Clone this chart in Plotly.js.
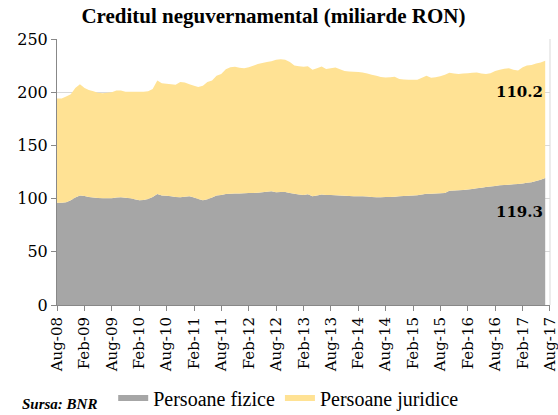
<!DOCTYPE html>
<html>
<head>
<meta charset="utf-8">
<script src="https://cdn.plot.ly/plotly-3.0.1.min.js"></script>
<style>html,body{margin:0;padding:0;background:#fff;}#chart{width:558px;height:415px;}</style>
</head>
<body>
<div id="chart"></div>
<script>
// Monthly data Aug-08 .. Jul-17
const startYear = 2008, startMonth = 8, nMonths = 108;
const fizice = [96,96,96.5,98.4,101,103,102.5,101.6,101,100.5,100.3,100.3,100.3,101,101.2,100.8,100.3,99.5,98.4,98.6,
  99.7,101.5,104.4,102.8,102.6,102.2,101.6,101.2,101.8,102.2,101,99.7,98.4,99.5,101,102.8,103.5,104.4,104.5,104.7,
  104.8,105,105.2,105.3,105.6,105.9,106.5,106.9,105.9,106.1,106.3,105.3,104.5,103.8,103.3,104.1,102.2,103,103.8,103.5,
  103.3,103.1,102.8,102.6,102.4,102.2,102.2,102.2,101.9,101.5,101.2,101.2,101.4,101.4,101.8,102.1,102.4,102.7,102.9,103.1,
  103.8,104.5,104.6,104.8,105,105.3,107.3,107.6,107.8,108.2,108.5,109.1,109.7,110.3,110.8,111.3,111.9,112.5,112.8,113.1,
  113.5,113.8,114.3,114.8,115.4,116.5,117.8,119.3];
const juridice = [98,98,99.5,99.6,103,104.5,101.5,100.4,100,99,98.7,99.2,99.7,100.5,100.3,99.7,100.2,101,102.1,101.9,
  101.3,101.5,106.6,105.7,105.4,105.3,105.4,108.3,107.2,105.3,105,105.3,107.6,110,110,112.7,113.5,117.1,119,119.3,
  118.2,117.6,118.3,119.5,120.9,121.6,122,122.1,124.6,124.9,124.2,123.2,120.5,120.7,120.7,120.4,118.8,119.5,120.4,118.2,
  119.2,120.2,118.7,117.4,117.1,117,116.8,116.4,115.6,115,114.3,113,112.5,112.6,112.7,110.4,109.6,109.1,108.7,108.5,
  109.7,110.9,108.9,109.2,110,111.2,110.9,109.9,109.2,109.3,109.4,109.2,108.9,107.2,106.2,106.5,108.1,108.5,109.2,109.5,
  107.5,106.7,109.2,110.2,110.1,110.5,110.2,110.2];
const seriesNames = ['Persoane fizice', 'Persoane juridice'];
const labelFizice = '119.3', labelJuridice = '110.2';

const months = [];
for (let i = 0; i < nMonths; i++) {
  const m = startMonth - 1 + i;
  const y = startYear + Math.floor(m / 12);
  const mm = (m % 12) + 1;
  months.push(y + '-' + String(mm).padStart(2, '0') + '-01');
}

const serif = 'Liberation Serif, Times New Roman, serif';
const gserif = 'DejaVu Serif, Georgia, serif';
const traces = [
  {x: months, y: fizice, name: seriesNames[0], type: 'scatter', mode: 'none', stackgroup: 'one',
   fillcolor: '#a6a6a6', line: {width: 0}, hoverinfo: 'skip'},
  {x: months, y: juridice, name: seriesNames[1], type: 'scatter', mode: 'none', stackgroup: 'one',
   fillcolor: '#ffe294', line: {width: 0}, hoverinfo: 'skip'}
];

const layout = {
  width: 558, height: 415,
  margin: {l: 57, r: 8, t: 39, b: 110, autoexpand: false},
  paper_bgcolor: '#fff', plot_bgcolor: '#fff',
  title: {text: '<b>Creditul neguvernamental (miliarde RON)</b>', x: 0.49, xanchor: 'center', y: 0.98, yanchor: 'top',
          font: {family: serif, size: 21, color: '#000'}},
  xaxis: {type: 'date', range: ['2008-08-01', '2017-08-02'], tick0: '2008-08-01', dtick: 'M6', tickformat: '%b-%y',
          tickangle: -90, ticks: 'outside', ticklen: 5, tickcolor: '#888', showgrid: false,
          showline: true, linecolor: '#888', linewidth: 1, zeroline: false, ticklabeloverflow: 'allow',
          tickfont: {family: gserif, size: 15, color: '#000'}},
  yaxis: {range: [0, 250], dtick: 50, ticks: 'outside', ticklen: 5, tickcolor: '#888',
          showgrid: true, gridcolor: '#d9d9d9', showline: true, linecolor: '#888', linewidth: 1, zeroline: false,
          tickfont: {family: gserif, size: 16, color: '#000'}},
  showlegend: true,
  legend: {orientation: 'h', traceorder: 'normal', x: 0.47, xanchor: 'center', y: -0.35, yanchor: 'middle',
           font: {family: serif, size: 20, color: '#000'}, itemwidth: 30, bgcolor: 'rgba(0,0,0,0)'},
  shapes: [
    {type: 'line', xref: 'paper', yref: 'paper', x0: 1, x1: 1, y0: 0, y1: 1, line: {color: '#d9d9d9', width: 1}}
  ],
  annotations: [
    {text: '<b>' + labelJuridice + '</b>', x: months[nMonths - 1], y: fizice[nMonths - 1] + juridice[nMonths - 1] - 29.5,
     xref: 'x', yref: 'y', xanchor: 'right', yanchor: 'middle', showarrow: false,
     font: {family: gserif, size: 15, color: '#000'}},
    {text: '<b>' + labelFizice + '</b>', x: months[nMonths - 1], y: fizice[nMonths - 1] - 32,
     xref: 'x', yref: 'y', xanchor: 'right', yanchor: 'middle', showarrow: false,
     font: {family: gserif, size: 15, color: '#000'}},
    {text: '<b><i>Sursa: BNR</i></b>', xref: 'paper', yref: 'paper', x: -0.075, y: -0.335, xanchor: 'left', yanchor: 'top',
     showarrow: false, font: {family: serif, size: 15, color: '#000'}}
  ]
};

Plotly.newPlot('chart', traces, layout, {displayModeBar: false, staticPlot: true});
</script>
</body>
</html>
